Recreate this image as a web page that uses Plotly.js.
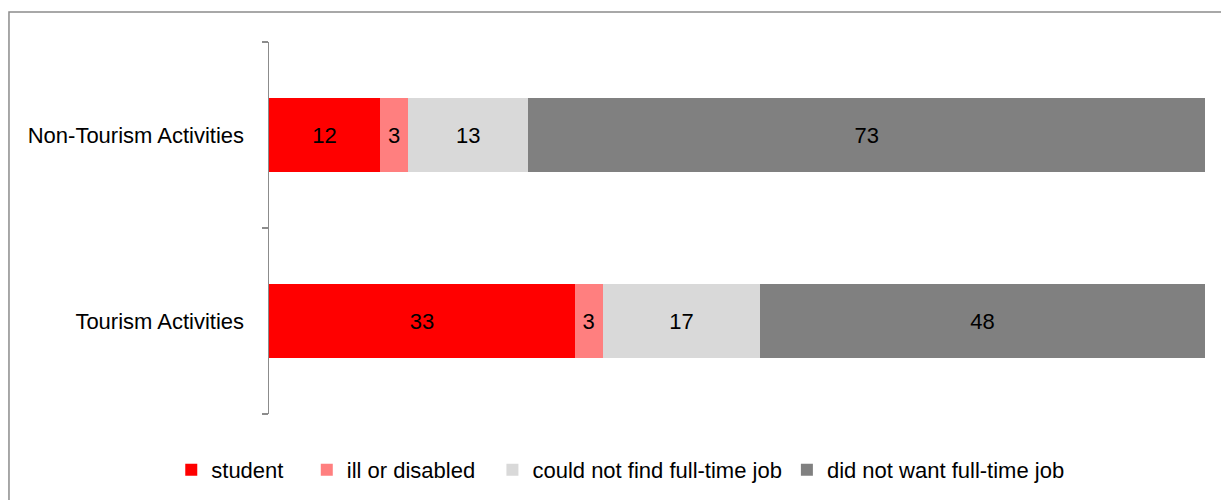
<!DOCTYPE html>
<html>
<head>
<meta charset="utf-8">
<script src="https://cdn.plot.ly/plotly-3.0.1.min.js"></script>
<style>
  html, body { margin: 0; padding: 0; background: #fff; }
  #chart { width: 1221px; height: 500px; }
</style>
</head>
<body>
<div id="chart"></div>
<script>
// Reasons for part-time work, share of respondents (%)
const categories = ['Tourism Activities', 'Non-Tourism Activities'];
const seriesNames = ['student', 'ill or disabled', 'could not find full-time job', 'did not want full-time job'];
const student = [33, 12];
const illDisabled = [3, 3];
const couldNotFind = [17, 13];
const didNotWant = [48, 73];
const colors = ['#FF0000', '#FF7F7F', '#D9D9D9', '#808080'];

const values = [student, illDisabled, couldNotFind, didNotWant];

const FONT = 'Liberation Sans, Arial, sans-serif';
const NBSP = '\u00a0';
// extra trailing space after each legend entry to widen the spacing between entries
const legendPad = [3, 2, 0, 0];

const traces = values.map((v, i) => ({
  type: 'bar',
  orientation: 'h',
  name: seriesNames[i] + NBSP.repeat(legendPad[i]),
  y: categories,
  x: v,
  text: v.map(String),
  textposition: 'inside',
  insidetextanchor: 'middle',
  textangle: 0,
  constraintext: 'none',
  insidetextfont: { family: FONT, size: 22, color: '#000' },
  marker: { color: colors[i], line: { width: 0 } },
  hoverinfo: 'name+x'
}));

const layout = {
  width: 1221,
  height: 500,
  margin: { l: 269, r: 16, t: 42, b: 86 },
  paper_bgcolor: '#fff',
  plot_bgcolor: '#fff',
  barmode: 'stack',
  barnorm: 'percent',
  bargap: 0.6,
  font: { family: FONT, size: 22, color: '#000' },
  showlegend: true,
  legend: {
    orientation: 'h',
    xref: 'container',
    x: 0.508,
    xanchor: 'center',
    yref: 'container',
    y: 0.06,
    yanchor: 'middle',
    font: { family: FONT, size: 22, color: '#000' },
    traceorder: 'normal',
    itemwidth: 30
  },
  xaxis: {
    range: [0, 100],
    visible: false,
    fixedrange: true
  },
  yaxis: {
    type: 'category',
    range: [-0.5, 1.5],
    showline: true,
    linecolor: '#8c8c8c',
    linewidth: 1.5,
    ticks: 'outside',
    tickson: 'boundaries',
    ticklen: 6,
    tickcolor: '#8c8c8c',
    tickwidth: 1.5,
    ticklabelstandoff: 19,
    showgrid: false,
    zeroline: false,
    tickfont: { family: FONT, size: 22, color: '#000' }
  },
  shapes: [{
    type: 'rect',
    xref: 'paper', yref: 'paper',
    x0: -0.2778, x1: 2, y0: -1, y1: 1.0806,
    line: { color: '#8c8c8c', width: 1.5 },
    fillcolor: 'rgba(0,0,0,0)',
    layer: 'below'
  }]
};

Plotly.newPlot('chart', traces, layout, { displayModeBar: false, staticPlot: true });
</script>
</body>
</html>
